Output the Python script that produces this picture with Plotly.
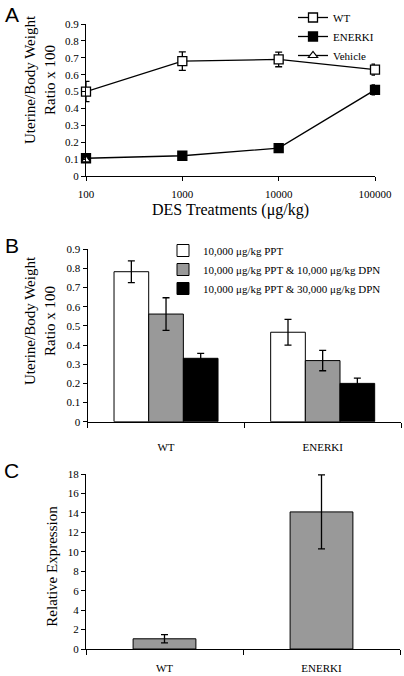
import plotly.graph_objects as go

# ---------------- data ----------------
# Panel A
doses = [100, 1000, 10000, 100000]
dose_labels = ["100", "1000", "10000", "100000"]
wt_ratio = [0.50, 0.68, 0.69, 0.63]
wt_err = [0.06, 0.055, 0.043, 0.033]
enerki_ratio = [0.105, 0.12, 0.165, 0.51]
enerki_err = [0.01, 0.01, 0.01, 0.03]
vehicle_dose = [100]
vehicle_ratio = [0.095]

# Panel B
genotypes = ["WT", "ENERKI"]
ppt = [0.783, 0.467]
ppt_err = [0.057, 0.067]
ppt_dpn10 = [0.562, 0.319]
ppt_dpn10_err = [0.085, 0.053]
ppt_dpn30 = [0.331, 0.200]
ppt_dpn30_err = [0.026, 0.028]

# Panel C
expr = [1.05, 14.1]
expr_err = [0.42, 3.8]

SERIF = "Liberation Serif, Times New Roman, serif"
SANS = "Liberation Sans, Arial, sans-serif"
W, H = 404, 676

def px(xp):
    return xp / W

def py(yp):
    return 1 - yp / H

fig = go.Figure()

# ---- Panel A ----
err_style = dict(type="data", thickness=1.3, width=3.5, color="black")
fig.add_trace(go.Scatter(
    x=doses, y=wt_ratio, name="WT", mode="lines+markers",
    line=dict(color="black", width=1.3),
    marker=dict(symbol="square", size=9, color="white", line=dict(color="black", width=1.3)),
    error_y=dict(array=wt_err, **err_style),
    cliponaxis=False, xaxis="x", yaxis="y", legend="legend"))
fig.add_trace(go.Scatter(
    x=doses, y=enerki_ratio, name="ENERKI", mode="lines+markers",
    line=dict(color="black", width=1.3),
    marker=dict(symbol="square", size=9, color="black", line=dict(color="black", width=1.3)),
    error_y=dict(array=enerki_err, **err_style),
    cliponaxis=False, xaxis="x", yaxis="y", legend="legend"))
fig.add_trace(go.Scatter(
    x=vehicle_dose, y=vehicle_ratio, name="Vehicle", mode="lines+markers",
    line=dict(color="black", width=1.3),
    marker=dict(symbol="triangle-up", size=8, color="white", line=dict(color="black", width=1.2)),
    cliponaxis=False, xaxis="x", yaxis="y", legend="legend"))

# ---- Panel B ----
bar_line = dict(color="black", width=1)
fig.add_trace(go.Bar(
    x=genotypes, y=ppt, name="10,000 μg/kg PPT",
    marker=dict(color="white", line=bar_line),
    error_y=dict(array=ppt_err, **err_style),
    xaxis="x2", yaxis="y2", legend="legend2"))
fig.add_trace(go.Bar(
    x=genotypes, y=ppt_dpn10, name="10,000 μg/kg PPT & 10,000 μg/kg DPN",
    marker=dict(color="#999999", line=bar_line),
    error_y=dict(array=ppt_dpn10_err, **err_style),
    xaxis="x2", yaxis="y2", legend="legend2"))
fig.add_trace(go.Bar(
    x=genotypes, y=ppt_dpn30, name="10,000 μg/kg PPT & 30,000 μg/kg DPN",
    marker=dict(color="black", line=bar_line),
    error_y=dict(array=ppt_dpn30_err, **err_style),
    xaxis="x2", yaxis="y2", legend="legend2"))

# ---- Panel C ----
fig.add_trace(go.Bar(
    x=genotypes, y=expr, width=0.4, showlegend=False,
    marker=dict(color="#999999", line=bar_line),
    error_y=dict(array=expr_err, **err_style),
    xaxis="x3", yaxis="y3"))

axis_common = dict(
    showline=True, linecolor="black", linewidth=1.3, ticks="outside",
    tickcolor="black", tickwidth=1.3, ticklen=4, showgrid=False, zeroline=False,
    tickfont=dict(family=SERIF, size=11, color="black"),
)

fig.update_layout(
    width=W, height=H,
    margin=dict(l=0, r=0, t=0, b=0, autoexpand=False),
    paper_bgcolor="white", plot_bgcolor="white",
    font=dict(family=SERIF, color="black"),
    barmode="group", bargap=0.336, bargroupgap=0,
    xaxis=dict(domain=[px(86), px(375)], type="log", range=[2, 5],
               tickvals=doses, ticktext=dose_labels, anchor="y",
               ticklabelstandoff=4, **axis_common),
    yaxis=dict(domain=[py(176), py(24)], range=[0, 0.9], dtick=0.1,
               tickformat="~g", anchor="x", **axis_common),
    xaxis2=dict(domain=[px(87.7), px(401)], range=[-0.5, 1.5], type="category",
                tickson="boundaries", anchor="y2", ticklabelstandoff=15,
                **{**axis_common, "ticklen": 5}),
    yaxis2=dict(domain=[py(421.7), py(249.3)], range=[0, 0.9], dtick=0.1,
                tickformat="~g", anchor="x2", **axis_common),
    xaxis3=dict(domain=[px(86), px(400)], range=[-0.5, 1.5], type="category",
                tickson="boundaries", anchor="y3", ticklabelstandoff=9,
                **{**axis_common, "ticklen": 5}),
    yaxis3=dict(domain=[py(649), py(474)], range=[0, 18], dtick=2,
                anchor="x3", **axis_common),
    legend=dict(x=px(293), y=py(3), xanchor="left", yanchor="top",
                bgcolor="rgba(0,0,0,0)", borderwidth=0,
                font=dict(family=SERIF, size=11, color="black"),
                tracegroupgap=0, itemwidth=30),
    legend2=dict(x=px(163), y=py(236), xanchor="left", yanchor="top",
                 bgcolor="rgba(0,0,0,0)", borderwidth=0,
                 font=dict(family=SERIF, size=11, color="black"),
                 tracegroupgap=0, itemwidth=30),
    showlegend=True,
)

annotations = [
    dict(text="A", x=px(11.5), y=py(14.5), font=dict(family=SANS, size=21)),
    dict(text="B", x=px(11.5), y=py(245), font=dict(family=SANS, size=21)),
    dict(text="C", x=px(11.5), y=py(470), font=dict(family=SANS, size=21)),
    dict(text="Uterine/Body Weight<br>Ratio x 100", x=px(40), y=py(80), textangle=-90,
         font=dict(family=SERIF, size=15)),
    dict(text="Uterine/Body Weight<br>Ratio x 100", x=px(40), y=py(321), textangle=-90,
         font=dict(family=SERIF, size=15)),
    dict(text="Relative Expression", x=px(51.7), y=py(566), textangle=-90,
         font=dict(family=SERIF, size=15)),
    dict(text="DES Treatments (μg/kg)", x=px(231), y=py(210),
         font=dict(family=SERIF, size=16)),
]
for a in annotations:
    a.update(xref="paper", yref="paper", showarrow=False, xanchor="center", yanchor="middle")
    a["font"]["color"] = "black"
fig.update_layout(annotations=annotations)

fig.write_html("out.html", config={"displayModeBar": False},
               post_script="document.body.style.margin='0px';")
